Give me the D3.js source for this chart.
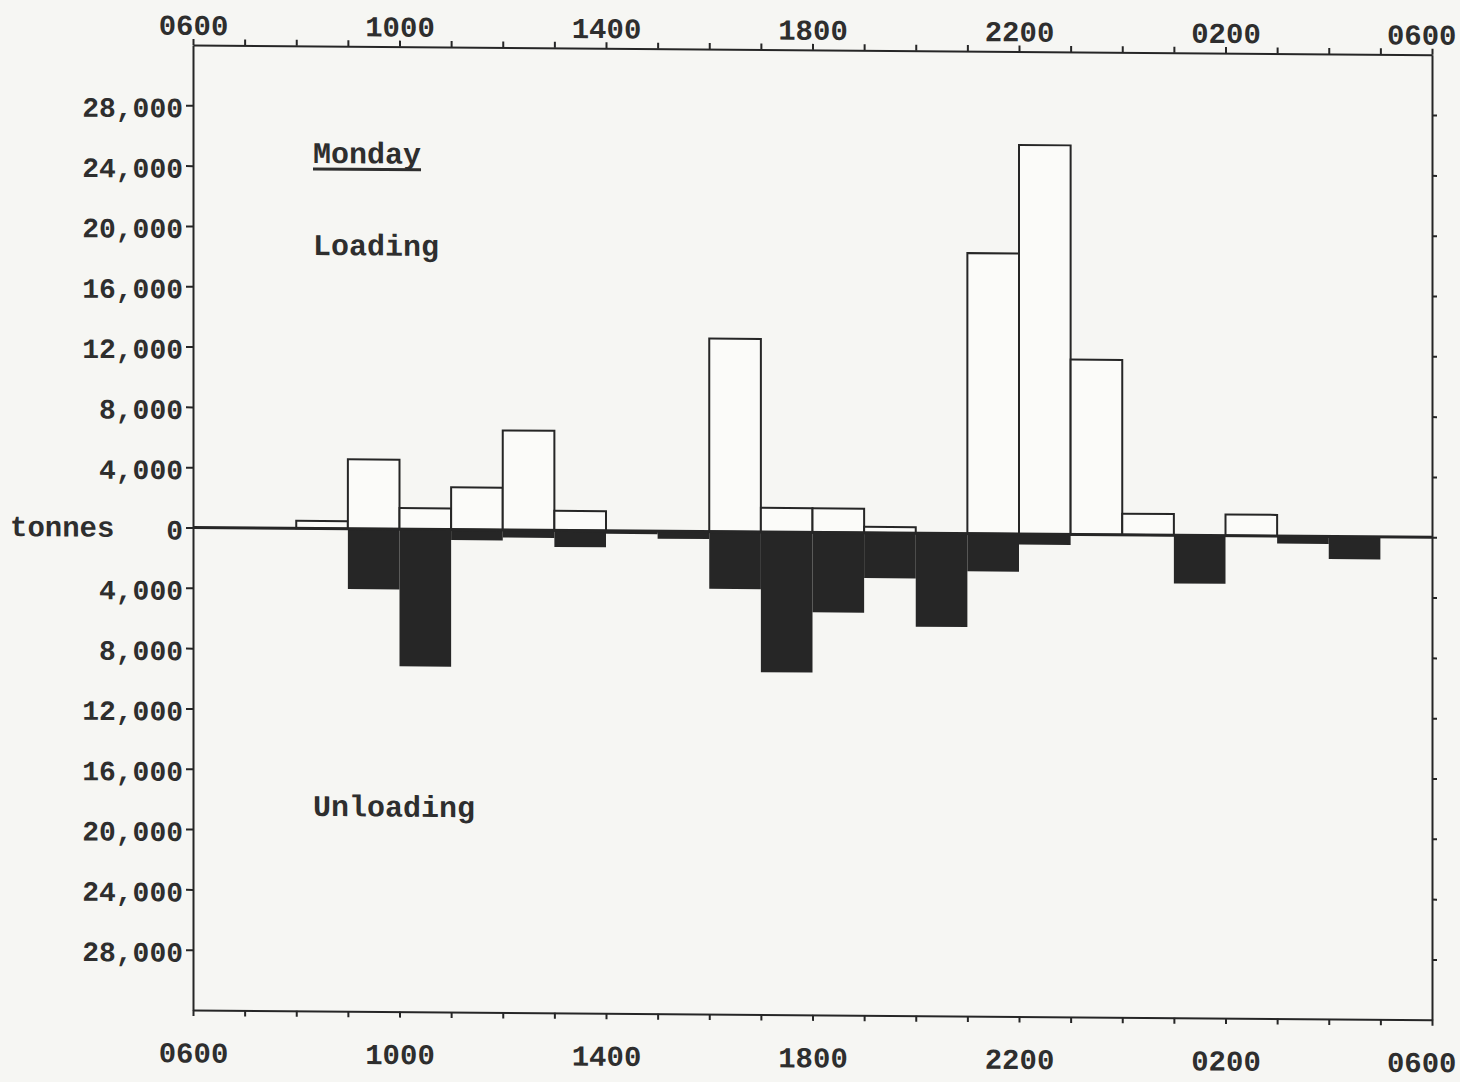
<!DOCTYPE html>
<html>
<head>
<meta charset="utf-8">
<script src="https://cdn.jsdelivr.net/npm/d3@7/dist/d3.min.js"></script>
<style>
  html, body { margin: 0; padding: 0; background: #f6f6f3; }
  svg { display: block; }
  text { font-family: "Liberation Mono", "DejaVu Sans Mono", monospace; font-weight: bold; fill: #2e2e2e; }
</style>
</head>
<body>
<script>
// Hour slots starting at 0600 (24 one-hour bins)
const hourSlots = ["0600","0700","0800","0900","1000","1100","1200","1300","1400","1500","1600","1700",
                   "1800","1900","2000","2100","2200","2300","0000","0100","0200","0300","0400","0500"];
// Loading (tonnes, drawn upward)
const loading   = [0, 0, 500, 4600, 1400, 2800, 6600, 1300, 0, 0, 12800, 1600,
                   1600, 400, 0, 18600, 25800, 11600, 1400, 0, 1400, 0, 0, 0];
// Unloading (tonnes, drawn downward)
const unloading = [0, 0, 0, 4000, 9100, 700, 500, 1100, 200, 500, 3800, 9300,
                   5300, 3000, 6200, 2500, 700, 0, 0, 3200, 0, 500, 1500, 0];
// Axis tick labels
const xTickLabels = ["0600","1000","1400","1800","2200","0200","0600"];
const yTickValues = [28000, 24000, 20000, 16000, 12000, 8000, 4000, 0, -4000, -8000, -12000, -16000, -20000, -24000, -28000];
const titleText = "Monday";
const loadingLabel = "Loading";
const unloadingLabel = "Unloading";
const yAxisLabel = "tonnes";

(function () {
const W = 1460, H = 1082;
const mL = 193, mR = 1432, mT = 45, mB = 1010;

const svgRoot = d3.select("body").append("svg").attr("width", W).attr("height", H);
// the scanned original sheet is very slightly skewed: horizontal lines drop to the right
const skewDeg = 0.45;
const svg = svgRoot.append("g")
  .attr("transform", `translate(0,${-mL * Math.tan(skewDeg * Math.PI / 180)}) skewY(${skewDeg})`);

const x = d3.scaleLinear().domain([0, 24]).range([mL, mR]);
const y = d3.scaleLinear().domain([-32000, 32000]).range([mB, mT]);

const ink = "#262626";

// Loading bars (outlined)
svg.append("g").selectAll("rect").data(loading.map((v, i) => ({v, i})).filter(d => d.v > 0))
  .join("rect")
  .attr("x", d => x(d.i))
  .attr("width", d => x(d.i + 1) - x(d.i))
  .attr("y", d => y(d.v))
  .attr("height", d => y(0) - y(d.v))
  .attr("fill", "#fbfbf9")
  .attr("stroke", ink)
  .attr("stroke-width", 2);

// Unloading bars (solid)
svg.append("g").selectAll("rect").data(unloading.map((v, i) => ({v, i})).filter(d => d.v > 0))
  .join("rect")
  .attr("x", d => x(d.i))
  .attr("width", d => x(d.i + 1) - x(d.i))
  .attr("y", y(0))
  .attr("height", d => y(-d.v) - y(0))
  .attr("fill", ink);

// Zero line
svg.append("line")
  .attr("x1", mL).attr("x2", mR)
  .attr("y1", y(0)).attr("y2", y(0))
  .attr("stroke", ink).attr("stroke-width", 3);

const fmt = d3.format(",");
const hourTicks = d3.range(0, 25);
const labelFor = h => (h % 4 === 0 ? xTickLabels[h / 4] : "");

function styleAxis(g) {
  g.select(".domain").attr("stroke", ink).attr("stroke-width", 2);
  g.selectAll(".tick line").attr("stroke", ink).attr("stroke-width", 2);
  g.selectAll(".tick text").attr("fill", "#2e2e2e")
    .style("font-family", "'Liberation Mono', monospace").style("font-weight", "bold");
}

// Top axis
const topAxis = svg.append("g").attr("transform", `translate(0,${mT})`)
  .call(d3.axisTop(x).tickValues(hourTicks).tickFormat(labelFor).tickSize(6).tickSizeOuter(0).tickPadding(4))
  .call(styleAxis);
topAxis.selectAll(".tick text").style("font-size", "29px");

// Bottom axis
const bottomAxis = svg.append("g").attr("transform", `translate(0,${mB})`)
  .call(d3.axisBottom(x).tickValues(hourTicks).tickFormat(labelFor).tickSize(6).tickSizeOuter(0).tickPadding(26))
  .call(styleAxis);
bottomAxis.selectAll(".tick text").style("font-size", "29px");

// shift last labels so they fit the page
[topAxis, bottomAxis].forEach(a => {
  a.selectAll(".tick").filter(d => d === 24).select("text").attr("text-anchor", "end").attr("x", 24);
});

// Left axis
const leftAxis = svg.append("g").attr("transform", `translate(${mL},0)`)
  .call(d3.axisLeft(y).tickValues(yTickValues).tickFormat(v => fmt(Math.abs(v))).tickSize(7).tickSizeOuter(0).tickPadding(3))
  .call(styleAxis);
leftAxis.selectAll(".tick text").style("font-size", "28px").attr("dy", "0.42em");

// Right axis (ticks only)
svg.append("g").attr("transform", `translate(${mR},0)`)
  .call(d3.axisRight(y).tickValues(yTickValues).tickFormat("").tickSize(5).tickSizeOuter(0))
  .call(styleAxis);

// Annotations
svg.append("text").attr("x", 10).attr("y", y(0) + 10).style("font-size", "29px").text(yAxisLabel);

const title = svg.append("text").attr("x", 313).attr("y", 162).style("font-size", "30px").text(titleText);
const tb = title.node().getBBox();
svg.append("line").attr("x1", tb.x).attr("x2", tb.x + tb.width)
  .attr("y1", 168).attr("y2", 168).attr("stroke", "#2e2e2e").attr("stroke-width", 3);

svg.append("text").attr("x", 313).attr("y", 254).style("font-size", "30px").text(loadingLabel);
svg.append("text").attr("x", 313).attr("y", 815).style("font-size", "30px").text(unloadingLabel);
})();
</script>
</body>
</html>
